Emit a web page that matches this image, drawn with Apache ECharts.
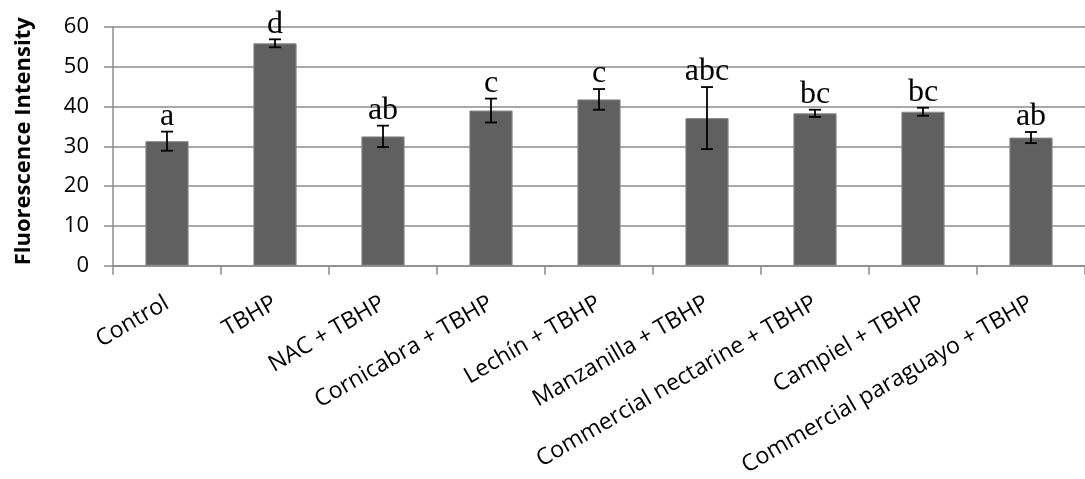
<!DOCTYPE html>
<html>
<head>
<meta charset="utf-8">
<script src="https://cdn.jsdelivr.net/npm/echarts@6/dist/echarts.min.js"></script>
<style>
  html, body { margin: 0; padding: 0; background: #fff; }
  #chart { width: 1085px; height: 479px; }
</style>
</head>
<body>
<div id="chart"></div>
<script>
// treatments on the x axis
var categories = ['Control', 'TBHP', 'NAC + TBHP', 'Cornicabra + TBHP', 'Lechín + TBHP',
  'Manzanilla + TBHP', 'Commercial nectarine + TBHP', 'Campiel + TBHP', 'Commercial paraguayo + TBHP']
// mean fluorescence
var means = [31.3, 55.9, 32.5, 39.0, 41.8, 37.1, 38.3, 38.7, 32.2]
// error (+/-)
var errors = [2.4, 1.0, 2.7, 3.0, 2.6, 7.8, 0.9, 1.0, 1.4]
// significance letters
var letters = ['a', 'd', 'ab', 'c', 'c', 'abc', 'bc', 'bc', 'ab']
var yTicks = [0, 10, 20, 30, 40, 50, 60]

var chart = echarts.init(document.getElementById('chart'))

var errData = means.map(function (m, i) {
  return [i, m - errors[i], m + errors[i], letters[i]]
})

function renderError(params, api) {
  var x = api.value(0)
  var low = api.coord([x, api.value(1)])
  var high = api.coord([x, api.value(2)])
  var cap = 6
  var st = { stroke: '#000', lineWidth: 1.8 }
  return {
    type: 'group',
    children: [
      { type: 'line', shape: { x1: high[0], y1: high[1], x2: low[0], y2: low[1] }, style: st },
      { type: 'line', shape: { x1: high[0] - cap, y1: high[1], x2: high[0] + cap, y2: high[1] }, style: st },
      { type: 'line', shape: { x1: low[0] - cap, y1: low[1], x2: low[0] + cap, y2: low[1] }, style: st },
      {
        type: 'text',
        x: high[0], y: high[1] + 1,
        style: {
          text: api.value(3),
          fill: '#000',
          font: '32px "Liberation Serif", serif',
          align: 'center',
          verticalAlign: 'bottom'
        }
      }
    ]
  }
}

var option = {
  animation: false,
  grid: {
    left: 113,
    right: -6,
    top: 27,
    bottom: 212
  },
  xAxis: {
    type: 'category',
    data: categories,
    axisLine: { lineStyle: { color: '#8c8c8c', width: 1.5 } },
    axisTick: { show: true, length: 9, alignWithLabel: false, lineStyle: { color: '#8c8c8c', width: 1.5 } },
    axisLabel: {
      rotate: 30,
      interval: 0,
      margin: 36,
      color: '#000',
      fontFamily: 'Open Sans',
      fontSize: 23
    }
  },
  yAxis: {
    type: 'value',
    min: 0,
    max: 60,
    interval: 10,
    name: 'Fluorescence Intensity',
    nameLocation: 'middle',
    nameGap: 78,
    nameTextStyle: { color: '#000', fontFamily: 'Open Sans', fontWeight: 'bold', fontSize: 22, padding: [0, 0, 0, 10] },
    axisLine: { show: true, lineStyle: { color: '#8c8c8c', width: 1.5 } },
    axisTick: { show: true, length: 9, lineStyle: { color: '#8c8c8c', width: 1.5 } },
    splitLine: { lineStyle: { color: '#8c8c8c', width: 1.5 } },
    axisLabel: {
      margin: 24,
      color: '#000',
      fontFamily: 'Open Sans',
      fontSize: 22,
      formatter: function (v) { return yTicks.indexOf(v) >= 0 ? String(v) : '' }
    }
  },
  series: [
    {
      type: 'bar',
      data: means,
      barWidth: '40%',
      itemStyle: { color: '#606060', borderColor: '#8a8a8a', borderWidth: 1 }
    },
    {
      type: 'custom',
      renderItem: renderError,
      data: errData,
      encode: { x: 0, y: [1, 2] },
      z: 10
    }
  ]
}

chart.setOption(option)
</script>
</body>
</html>
